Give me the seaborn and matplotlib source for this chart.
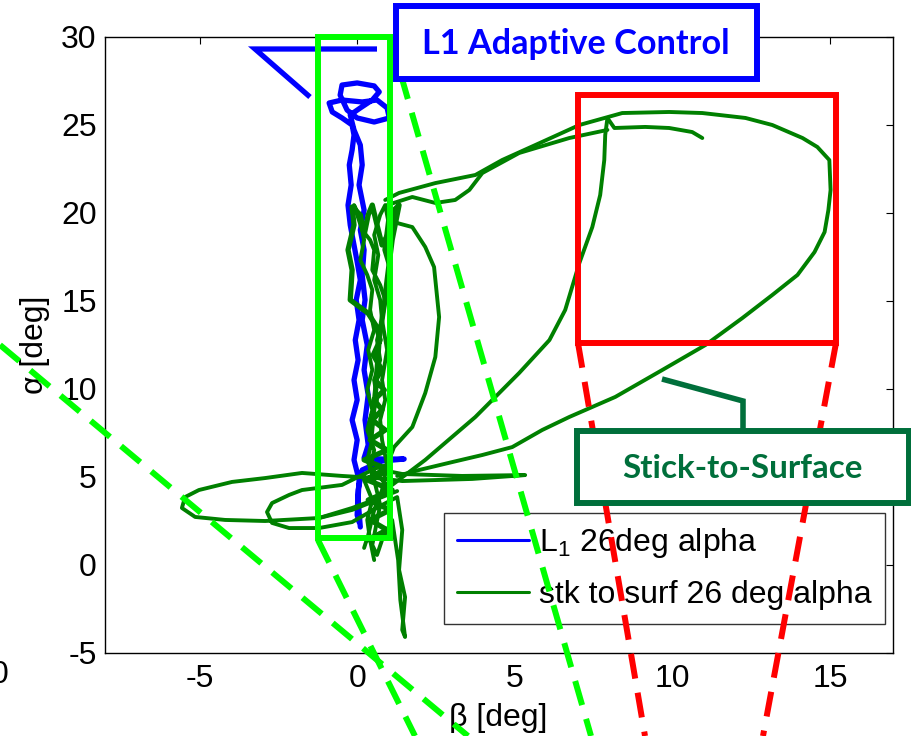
import numpy as np
import pandas as pd
import matplotlib
matplotlib.use("Agg")
import matplotlib.pyplot as plt
from matplotlib.lines import Line2D
from matplotlib.patches import Rectangle
import seaborn as sns

# ---------------- data (sideslip beta vs angle of attack alpha, deg) ----------------
l1_beta = [0.10, 0.03, 0.06, -0.10, 0.00, -0.16, 0.00, -0.10, 0.03, -0.06, 0.06, -0.03,
           0.10, 0.00, -0.10, -0.22, -0.29, -0.19, -0.25, -0.16, -0.10, -0.16, -0.48,
           -0.79, -0.89, -0.48, 0.16, 0.63, 0.95, 1.02, 0.54, 0.00, -0.32, -0.54, -0.48,
           0.00, 0.54, 0.70, 0.48, 0.10, -0.22, -0.10, 0.10, 0.16, 0.06, 0.22, 0.10, 0.22,
           0.16, 0.25, 0.16, 0.32, 0.22, 0.35, 0.25, 0.35, 0.22, 0.79, 1.49, 0.79, 0.16,
           0.03, 0.00, 0.06]
l1_alpha = [2.16, 3.69, 4.83, 5.97, 7.10, 8.24, 9.38, 10.51, 11.65, 12.78, 13.92, 15.06,
            16.19, 17.22, 18.18, 19.32, 20.45, 21.59, 22.73, 23.58, 24.43, 25.00, 25.40,
            25.74, 26.25, 26.42, 26.31, 26.42, 25.97, 25.40, 25.17, 25.40, 25.85, 26.70,
            27.27, 27.39, 27.22, 26.88, 26.42, 25.97, 25.57, 24.72, 23.86, 22.73, 21.59,
            20.17, 19.03, 17.90, 16.48, 15.06, 13.92, 12.50, 11.08, 9.66, 8.24, 6.82, 6.08,
            6.02, 6.02, 5.91, 5.40, 4.26, 2.84, 2.44]

# stick-to-surface run, split into its separate strokes
sts_core_beta = [0.54, 0.41, 0.32, 0.48, 0.22, 0.79, 1.43, 3.33, 5.33, 3.65, 1.43, 0.63,
                 -0.48, -1.75, -2.92, -3.97, -5.02, -5.46, -5.56, -5.14, -4.19, -2.92,
                 -1.21, -0.16, 0.63, 0.95, 0.48, -0.48, -1.75, -2.16, -2.70, -2.86, -2.70,
                 -2.16, -1.21, -0.16, 0.79, 1.27, 1.43, 1.33, 1.52, 1.43, 1.52, 1.37, 1.30,
                 1.11, 0.79, 0.63, 0.48, 0.73, 0.54, 0.32, 0.48, 0.41, 0.63, 0.54, 0.73,
                 0.63, 0.79, 0.89, 0.73, 0.48, 0.54, 0.41, 0.16, 0.00, -0.10, 0.06, 0.22,
                 0.10, 0.32, 0.48, 0.41, 0.54, 0.35, 0.48, 0.32, 0.48, 0.32, 0.54, 0.41,
                 0.95, 0.79, 0.73, 0.89, 0.79, 0.95, 0.79, 0.73, 0.54, 0.67, 0.54, 0.73,
                 0.89, 0.98, 0.86, 1.05, 0.92, 1.11, 1.27, 1.75, 2.16, 2.44, 2.60, 2.48,
                 2.16, 1.75, 1.17, 0.95, 0.79, 0.54, 0.35, 0.22]
sts_core_alpha = [0.28, 1.42, 2.56, 3.69, 4.83, 5.40, 5.17, 5.06, 5.11, 4.89, 4.77, 4.94,
                  5.06, 5.23, 4.94, 4.72, 4.26, 3.86, 3.24, 2.73, 2.56, 2.50, 2.67, 3.13,
                  3.69, 4.55, 5.40, 4.55, 4.26, 3.98, 3.52, 3.01, 2.39, 2.10, 2.10, 2.44,
                  3.41, 3.86, 1.99, -0.28, -1.82, -3.69, -4.09, -1.99, 0.28, 2.56, 1.42,
                  0.57, 1.14, 3.41, 4.83, 5.97, 7.10, 8.24, 9.38, 10.51, 11.65, 12.78,
                  13.92, 15.06, 15.91, 16.76, 17.90, 18.47, 19.03, 19.89, 20.45, 19.89,
                  18.47, 17.33, 16.48, 15.63, 14.49, 13.35, 12.22, 11.08, 9.94, 8.81, 7.67,
                  6.53, 5.40, 5.68, 7.10, 8.24, 9.38, 10.51, 12.22, 13.92, 15.06, 16.19,
                  17.61, 18.75, 19.89, 20.45, 19.60, 17.90, 16.76, 18.47, 19.89, 19.43,
                  19.20, 18.07, 16.93, 14.09, 11.82, 9.77, 7.84, 6.70, 5.68, 4.26, 3.13,
                  1.70, 0.97]

# dense dithering near zero sideslip
sts_mesh_beta = [0.32, 0.95, 0.41, 1.05, 0.35, 1.11, 0.32, 1.05, 0.22, 0.95, 0.41, 0.89,
                 0.48, 0.79, 0.54, 0.86, 0.57, 0.79, 0.51, 0.73, 0.60, 0.35, -0.22, -0.16,
                 -0.29, -0.10, -0.16, 0.10, 0.22, 0.35, 0.48, 0.63, 0.79, 1.05, 1.17, 1.33,
                 1.11, 0.95, 0.86, 0.70, 0.60, 0.45]
sts_mesh_alpha = [1.42, 1.99, 2.56, 3.13, 3.69, 4.26, 4.83, 5.40, 5.97, 6.53, 7.10, 7.67,
                  8.24, 8.81, 9.38, 9.94, 10.51, 11.08, 11.93, 12.78, 13.60, 14.30, 15.06,
                  16.76, 17.90, 19.32, 20.34, 19.89, 18.75, 19.89, 20.45, 19.32, 18.18,
                  19.03, 20.17, 20.45, 18.47, 16.19, 14.80, 12.90, 10.20, 7.50]

sts_outer_beta = [0.89, 1.33, 2.48, 3.75, 4.60, 5.65, 7.05, 8.41, 9.90, 10.95, 12.32,
                  13.17, 14.13, 14.60, 14.98, 15.02, 14.95, 14.83, 14.51, 13.97, 13.17,
                  12.22, 11.05, 9.68, 8.19, 6.73, 5.87, 4.92, 3.97, 3.02, 1.97, 1.27]
sts_outer_alpha = [20.74, 21.14, 21.70, 22.16, 23.01, 23.86, 25.00, 25.68, 25.74, 25.68,
                   25.40, 25.00, 24.26, 23.75, 23.01, 21.31, 20.17, 18.92, 17.78, 16.48,
                   15.34, 14.03, 12.50, 11.08, 9.55, 8.41, 7.67, 6.70, 6.25, 5.85, 5.40,
                   5.06]

sts_climb_beta = [1.11, 2.16, 3.75, 5.14, 6.10, 6.60, 7.05, 7.46, 7.71, 7.84, 7.87, 7.94,
                  8.16, 9.14, 9.90, 10.63, 10.95]
sts_climb_alpha = [4.55, 5.97, 8.41, 10.91, 12.78, 14.49, 17.16, 19.20, 21.02, 23.01,
                   24.43, 25.40, 24.83, 24.89, 24.83, 24.60, 24.26]

sts_cross_beta = [0.95, 1.75, 2.48, 3.11, 3.56, 3.97, 5.14, 6.73, 7.94]
sts_cross_alpha = [20.45, 20.91, 20.57, 20.74, 21.31, 22.27, 23.41, 24.26, 24.72]

sts_return_beta = [-1.21, -0.16, 0.79, 1.27]
sts_return_alpha = [2.67, 3.24, 3.86, 4.20]

series_names = ["L$_1$ 26deg alpha", "stk to surf 26 deg alpha"]
x_ticks = [-5, 0, 5, 10, 15]
y_ticks = [-5, 0, 5, 10, 15, 20, 25, 30]

# ---------------- assemble long-form table ----------------
frames = []
strokes = [
    (l1_beta, l1_alpha, series_names[0], "thin"),
    (sts_core_beta, sts_core_alpha, series_names[1], "thin"),
    (sts_mesh_beta, sts_mesh_alpha, series_names[1], "thick"),
    (sts_outer_beta, sts_outer_alpha, series_names[1], "thin"),
    (sts_climb_beta, sts_climb_alpha, series_names[1], "thin"),
    (sts_cross_beta, sts_cross_alpha, series_names[1], "thin"),
    (sts_return_beta, sts_return_alpha, series_names[1], "thin"),
]
for seg, (bx, ay, name, weight) in enumerate(strokes):
    frames.append(pd.DataFrame({"beta": bx, "alpha": ay, "series": name, "seg": seg,
                                "weight": weight}))
df = pd.concat(frames, ignore_index=True)

# ---------------- style ----------------
sns.set_theme(style="white")
plt.rcParams["font.family"] = ["Liberation Sans", "DejaVu Sans"]
plt.rcParams["mathtext.fontset"] = "custom"
plt.rcParams["mathtext.rm"] = "Liberation Sans"
plt.rcParams["mathtext.it"] = "Liberation Sans:italic"
plt.rcParams["axes.unicode_minus"] = False
for key in ["text.color", "axes.labelcolor", "xtick.color", "ytick.color",
            "axes.edgecolor"]:
    plt.rcParams[key] = "black"

FS = 23
W, H = 912, 736
fig = plt.figure(figsize=(W / 100, H / 100), dpi=100)
ax = fig.add_axes([105 / W, 1 - 653 / H, 788 / W, 616 / H])

palette = {series_names[0]: "#0000FF", series_names[1]: "#008000"}
l1 = df[df.series == series_names[0]]
sts = df[df.series == series_names[1]]
sns.lineplot(data=l1, x="beta", y="alpha", units="seg", estimator=None, sort=False,
             color=palette[series_names[0]], lw=3.8, ax=ax, legend=False)
sns.lineplot(data=sts[sts.weight == "thin"], x="beta", y="alpha", units="seg",
             estimator=None, sort=False, color=palette[series_names[1]], lw=2.8,
             ax=ax, legend=False)
sns.lineplot(data=sts[sts.weight == "thick"], x="beta", y="alpha", units="seg",
             estimator=None, sort=False, color=palette[series_names[1]], lw=3.8,
             ax=ax, legend=False)

ax.set_xlim(-8, 17)
ax.set_ylim(-5, 30)
ax.set_xticks(x_ticks)
ax.set_yticks(y_ticks)
ax.tick_params(direction="in", top=True, right=True, length=5, width=0.8,
               labelsize=FS, colors="black")
ax.tick_params(axis="x", pad=8)
ax.tick_params(axis="y", pad=6)
for sp in ax.spines.values():
    sp.set_visible(True)
    sp.set_color("black")
    sp.set_linewidth(1.0)

ax.set_xlabel("β [deg]", fontsize=FS, va="center")
ax.set_ylabel("α [deg]", fontsize=FS, va="center")
ax.xaxis.set_label_coords((498 - 105) / 788, (653 - 718) / 616)
ax.yaxis.set_label_coords((35 - 105) / 788, 0.5)

handles = [Line2D([], [], color=palette[n], lw=2.2) for n in series_names]
leg = ax.legend(handles, series_names, loc="upper left",
                bbox_to_anchor=((444 - 105) / 788, (653 - 513) / 616),
                fontsize=FS, frameon=True, fancybox=False, shadow=False,
                handlelength=2.25, handletextpad=0.3, borderpad=0.42,
                labelspacing=0.62, borderaxespad=0)
leg.get_frame().set_edgecolor("black")
leg.get_frame().set_linewidth(1.0)
for t in leg.get_texts():
    t.set_color("black")

# ---------------- figure-level callouts ----------------
def fpx(x, y):
    return x / W, 1 - y / H

def fig_line(pts, color, lw, ls="-", z=3):
    xs = [p[0] / W for p in pts]
    ys = [1 - p[1] / H for p in pts]
    fig.add_artist(Line2D(xs, ys, transform=fig.transFigure, color=color, lw=lw,
                          linestyle=ls, zorder=z, solid_capstyle="butt",
                          dash_capstyle="butt", solid_joinstyle="miter"))

def fig_box(x0, y0, x1, y1, color, lw, fill=False, z=3):
    fig.add_artist(Rectangle(fpx(x0, y1), (x1 - x0) / W, (y1 - y0) / H,
                             transform=fig.transFigure, fill=fill, facecolor="white",
                             edgecolor=color, lw=lw, zorder=z, joinstyle="miter"))

lime = "#00FF00"
red = "#FF0000"
dash = (0, (4.2, 2.4))

# zoom guide lines
fig_line([(390, 37), (591, 736)], lime, 4.3, dash, z=2)
fig_line([(318, 540), (415, 736)], lime, 4.3, dash, z=2)
fig_line([(0, 345), (468, 736)], lime, 4.3, dash, z=2)
fig_line([(578, 343), (645, 736)], red, 4.3, dash, z=2)
fig_line([(836, 343), (763, 736)], red, 4.3, dash, z=2)

# highlight frames
fig_box(318, 37, 390, 538, lime, 4.3, z=3)
fig_box(578, 95, 836, 343, red, 4.3, z=3)

# L1 callout
blue = "#0000FF"
fig_line([(377, 49), (255, 49), (310, 97)], blue, 3.8, z=2.5)
fig_box(396, 6, 757, 79, blue, 4.3, fill=True, z=4)
t1 = fig.text(*fpx(576, 44), "L1 Adaptive Control", ha="center", va="center",
              color=blue, fontsize=22, fontweight="bold", family=["Lato", "DejaVu Sans"],
              zorder=5)

# stick-to-surface callout
dgreen = "#006F3B"
fig_line([(662, 379), (743, 401), (743, 430)], dgreen, 4.0, z=2.5)
fig_box(577, 431, 909, 503, dgreen, 4.3, fill=True, z=4)
t2 = fig.text(*fpx(742, 468), "Stick-to-Surface", ha="center", va="center",
              color=dgreen, fontsize=22, fontweight="bold", family=["Lato", "DejaVu Sans"],
              zorder=5)

# neighbouring panel's tick label peeking in from the left edge
fig.text(*fpx(9, 675), "0", ha="right", va="center", fontsize=FS, color="black")

# size the callout captions to their boxes
fig.canvas.draw()
r = fig.canvas.get_renderer()
for txt, target in [(t1, 307), (t2, 240)]:
    w = txt.get_window_extent(renderer=r).width
    txt.set_fontsize(txt.get_fontsize() * target / w)

fig.savefig("out.png", dpi=100)
